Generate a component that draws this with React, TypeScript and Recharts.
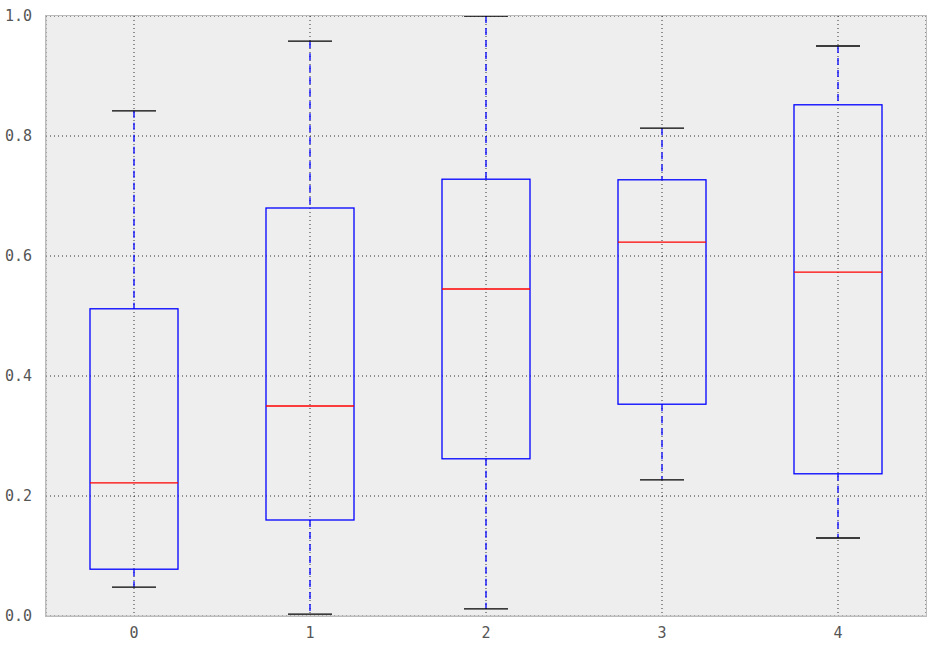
import { ComposedChart, Bar, XAxis, YAxis, CartesianGrid } from 'recharts';

const groups = ['0', '1', '2', '3', '4'];
const lowWhisker = [0.048, 0.003, 0.012, 0.227, 0.13];
const q1 = [0.078, 0.16, 0.262, 0.353, 0.237];
const median = [0.222, 0.35, 0.545, 0.623, 0.573];
const q3 = [0.512, 0.68, 0.728, 0.727, 0.852];
const highWhisker = [0.842, 0.958, 1.0, 0.813, 0.95];
const yTicks = [0, 0.2, 0.4, 0.6, 0.8, 1.0];

const data = groups.map((name, i) => ({
  name,
  range: [lowWhisker[i], highWhisker[i]],
  low: lowWhisker[i],
  q1: q1[i],
  med: median[i],
  q3: q3[i],
  high: highWhisker[i],
}));

const tickStyle = { fontFamily: 'DejaVu Sans Mono', fontSize: 15, fill: '#555555' };

// the bar spans low..high whisker; the rest is placed inside that pixel span
function BoxShape(props: any) {
  const { x, y, width, height, payload } = props;
  const top = Math.min(y, y + height);
  const h = Math.abs(height);
  const span = payload.high - payload.low;
  const py = (v: number) => top + ((payload.high - v) / span) * h;
  const cx = x + width / 2;
  const capHalf = width / 4;
  const yHigh = py(payload.high);
  const yLow = py(payload.low);
  const yQ1 = py(payload.q1);
  const yQ3 = py(payload.q3);
  const yMed = py(payload.med);
  return (
    <g>
      <line x1={cx} x2={cx} y1={yHigh} y2={yQ3} stroke="#0000ff" strokeWidth={1.3} strokeDasharray="7 5" />
      <line x1={cx} x2={cx} y1={yQ1} y2={yLow} stroke="#0000ff" strokeWidth={1.3} strokeDasharray="7 5" />
      <line x1={cx - capHalf} x2={cx + capHalf} y1={yHigh} y2={yHigh} stroke="#000000" strokeWidth={1.3} />
      <line x1={cx - capHalf} x2={cx + capHalf} y1={yLow} y2={yLow} stroke="#000000" strokeWidth={1.3} />
      <rect x={x} y={yQ3} width={width} height={yQ1 - yQ3} fill="none" stroke="#0000ff" strokeWidth={1.3} />
      <line x1={x} x2={x + width} y1={yMed} y2={yMed} stroke="#ff0000" strokeWidth={1.3} />
    </g>
  );
}

export default function App() {
  return (
    <div style={{ position: 'absolute', left: 0, top: 0, width: 935, height: 646, background: '#ffffff' }}>
      <ComposedChart
        width={935}
        height={646}
        data={data}
        margin={{ top: 16, right: 9, bottom: 0, left: 0 }}
      >
        <CartesianGrid stroke="#000000" strokeDasharray="1 3" fill="#eeeeee" strokeWidth={0.8} />
        <XAxis
          dataKey="name"
          type="category"
          height={30}
          tick={tickStyle}
          tickLine={false}
          axisLine={{ stroke: '#bcbcbc' }}
          tickMargin={5}
        />
        <YAxis
          domain={[0, 1]}
          ticks={yTicks}
          width={46}
          tick={tickStyle}
          tickLine={false}
          axisLine={{ stroke: '#bcbcbc' }}
          tickFormatter={(v: number) => v.toFixed(1)}
          tickMargin={8}
        />
        <Bar dataKey="range" barSize={88} shape={<BoxShape />} isAnimationActive={false} />
      </ComposedChart>
      {/* plot frame */}
      <div
        style={{
          position: 'absolute',
          left: 45,
          top: 15,
          width: 880,
          height: 600,
          border: '1px solid #bcbcbc',
          pointerEvents: 'none',
        }}
      />
    </div>
  );
}
